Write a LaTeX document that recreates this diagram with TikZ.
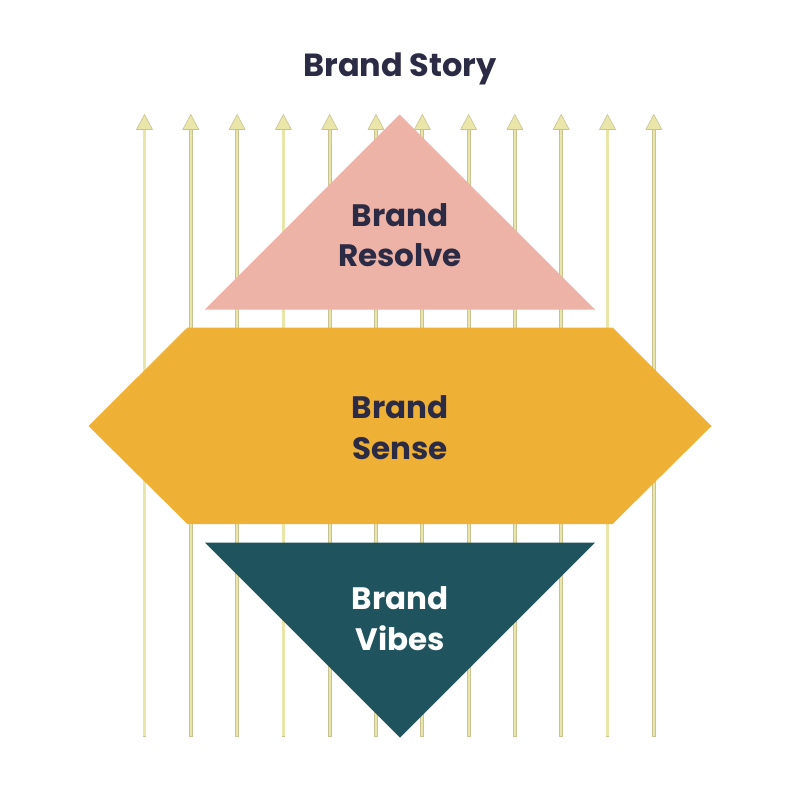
\documentclass[tikz,border=0pt]{standalone}
\usepackage{fontspec}
\setmainfont{Poppins}[BoldFont={Poppins Bold}]
\definecolor{pinkc}{HTML}{EDB3A6}
\definecolor{orangec}{HTML}{EFB135}
\definecolor{tealc}{HTML}{1F535D}
\definecolor{navyc}{HTML}{2B2B45}
\definecolor{arrowfill}{HTML}{EAE5A8}
\definecolor{arrowedge}{HTML}{C9C393}
\tikzset{
  shaftedge/.style={draw=arrowedge, line width=3.8pt},
  shaftfill/.style={draw=arrowfill, line width=2.2pt},
  headtip/.style={fill=arrowfill, draw=arrowedge, line width=0.6pt, line join=round},
  lbl/.style={anchor=base, align=center, font=\bfseries\fontsize{31}{40.7}\selectfont, inner sep=0pt},
}
\begin{document}
\begin{tikzpicture}[x=1pt,y=-1pt]
\useasboundingbox[fill=white] (0,0) rectangle (800,800);
% arrows
\foreach \i in {0,...,11}{
  \pgfmathsetmacro{\xx}{144.5+46.3*\i}
  \coordinate (b\i) at (\xx,737);
  \coordinate (s\i) at (\xx,128);
  \coordinate (t\i) at (\xx,114.5);
  \draw[shaftedge] (b\i) -- (s\i);
  \draw[shaftfill] ([yshift=0.6pt]b\i) -- (s\i);
  \draw[headtip] (t\i) -- ([xshift=-8pt,yshift=-15pt]t\i) -- ([xshift=8pt,yshift=-15pt]t\i) -- cycle;
}
% shapes
\fill[pinkc] (399.5,114.5) -- (595,309.5) -- (205,309.5) -- cycle;
\fill[orangec] (187.5,327.5) -- (612.5,327.5) -- (711.5,426) -- (612.5,524) -- (187.5,524) -- (88.5,426) -- cycle;
\fill[tealc] (205,542.5) -- (595,542.5) -- (400,737.5) -- cycle;
% labels
\node[lbl, text=navyc, font=\bfseries\fontsize{32}{32}\selectfont] (title) at (400,76.7) {Brand Story};
\node[lbl, text=navyc] (resolve) at (400,266.7) {Brand\\Resolve};
\node[lbl, text=navyc] (sense) at (400,459) {Brand\\Sense};
\node[lbl, text=white] (vibes) at (400,650) {Brand\\Vibes};
\end{tikzpicture}
\end{document}
